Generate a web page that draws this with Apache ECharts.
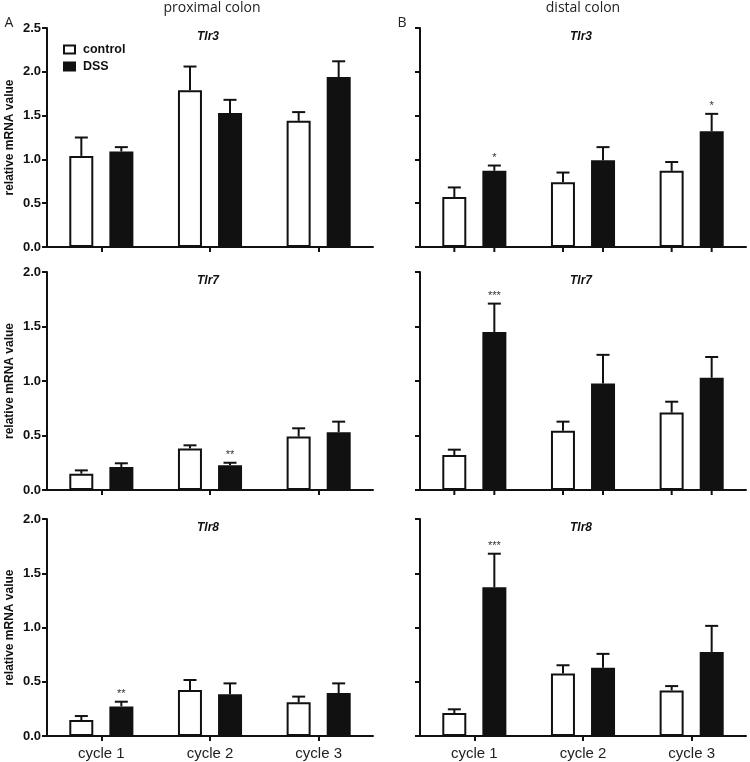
<!DOCTYPE html>
<html><head><meta charset="utf-8">
<script src="https://cdn.jsdelivr.net/npm/echarts@6/dist/echarts.min.js"></script>
<style>html,body{margin:0;padding:0;background:#fff}#c{width:750px;height:762px}</style>
</head><body><div id="c"></div>
<script>
const categories = ['cycle 1', 'cycle 2', 'cycle 3'];
const genes = ['Tlr3', 'Tlr7', 'Tlr8'];
const regions = ['proximal colon', 'distal colon'];
const panelLetters = ['A', 'B'];
const groupNames = ['control', 'DSS'];
const yAxisLabel = 'relative mRNA value';
const yMaxByRow = [2.5, 2.0, 2.0];
const yInterval = 0.5;

// proximal colon
const proxTlr3Control = [1.04, 1.79, 1.44];
const proxTlr3ControlSem = [0.21, 0.27, 0.10];
const proxTlr3Dss = [1.09, 1.53, 1.94];
const proxTlr3DssSem = [0.05, 0.15, 0.18];
const proxTlr3Sig = ['', '', ''];

const proxTlr7Control = [0.15, 0.38, 0.49];
const proxTlr7ControlSem = [0.03, 0.03, 0.076];
const proxTlr7Dss = [0.21, 0.226, 0.53];
const proxTlr7DssSem = [0.035, 0.024, 0.097];
const proxTlr7Sig = ['', '**', ''];

const proxTlr8Control = [0.147, 0.424, 0.31];
const proxTlr8ControlSem = [0.037, 0.092, 0.053];
const proxTlr8Dss = [0.273, 0.384, 0.396];
const proxTlr8DssSem = [0.043, 0.101, 0.089];
const proxTlr8Sig = ['**', '', ''];

// distal colon
const distTlr3Control = [0.57, 0.74, 0.87];
const distTlr3ControlSem = [0.11, 0.11, 0.10];
const distTlr3Dss = [0.87, 0.99, 1.32];
const distTlr3DssSem = [0.06, 0.15, 0.20];
const distTlr3Sig = ['*', '', '*'];

const distTlr7Control = [0.32, 0.544, 0.71];
const distTlr7ControlSem = [0.05, 0.083, 0.10];
const distTlr7Dss = [1.45, 0.976, 1.03];
const distTlr7DssSem = [0.26, 0.264, 0.19];
const distTlr7Sig = ['***', '', ''];

const distTlr8Control = [0.212, 0.575, 0.42];
const distTlr8ControlSem = [0.034, 0.077, 0.04];
const distTlr8Dss = [1.37, 0.628, 0.775];
const distTlr8DssSem = [0.31, 0.129, 0.24];
const distTlr8Sig = ['***', '', ''];

const panels = [
  // row, col, control, controlSem, dss, dssSem, sig
  [0, 0, proxTlr3Control, proxTlr3ControlSem, proxTlr3Dss, proxTlr3DssSem, proxTlr3Sig],
  [0, 1, distTlr3Control, distTlr3ControlSem, distTlr3Dss, distTlr3DssSem, distTlr3Sig],
  [1, 0, proxTlr7Control, proxTlr7ControlSem, proxTlr7Dss, proxTlr7DssSem, proxTlr7Sig],
  [1, 1, distTlr7Control, distTlr7ControlSem, distTlr7Dss, distTlr7DssSem, distTlr7Sig],
  [2, 0, proxTlr8Control, proxTlr8ControlSem, proxTlr8Dss, proxTlr8DssSem, proxTlr8Sig],
  [2, 1, distTlr8Control, distTlr8ControlSem, distTlr8Dss, distTlr8DssSem, distTlr8Sig]
];

// layout (styles / positions)
const gridLeft = [47, 420];
const gridWidth = 326;
const gridTop = [28, 272, 519];
const gridHeight = [219, 218, 217];
const INK = '#111';
const BAR_W = 24;
const BAR_OFFSET = 20;
const FONT = 'Liberation Sans';

const grids = [], xAxes = [], yAxes = [], series = [], graphics = [];

function errRenderer(offset, sigArr, barTicks) {
  return function (params, api) {
    const idx = api.value(0), mean = api.value(1), sem = api.value(2);
    const base = api.coord([idx, mean]);
    const top = api.coord([idx, mean + sem]);
    const zero = api.coord([idx, 0]);
    const x = base[0] + offset;
    const children = [
      { type: 'line', shape: { x1: x, y1: base[1], x2: x, y2: top[1] }, style: { stroke: INK, lineWidth: 2 } },
      { type: 'line', shape: { x1: x - 6.5, y1: top[1], x2: x + 6.5, y2: top[1] }, style: { stroke: INK, lineWidth: 2 } }
    ];
    if (barTicks) {
      children.push({ type: 'line', shape: { x1: x, y1: zero[1], x2: x, y2: zero[1] + 5 }, style: { stroke: INK, lineWidth: 2 } });
    }
    const s = sigArr ? sigArr[params.dataIndex] : '';
    if (s) {
      children.push({ type: 'text', style: { text: s, x: x, y: top[1] - 2, align: 'center', verticalAlign: 'bottom', font: '11px "' + FONT + '"', fill: '#333' } });
    }
    return { type: 'group', children: children };
  };
}

panels.forEach((p, k) => {
  const [row, col, ctrl, ctrlSem, dss, dssSem, sig] = p;
  const isBottom = row === 2;
  const barTicks = col === 1 && row < 2;
  grids.push({ left: gridLeft[col], top: gridTop[row], width: gridWidth, height: gridHeight[row], containLabel: false });
  xAxes.push({
    type: 'category', gridIndex: k, data: categories,
    axisLine: { lineStyle: { color: INK, width: 2 } },
    axisTick: { show: !barTicks, alignWithLabel: true, length: 5, lineStyle: { color: INK, width: 2 } },
    axisLabel: { show: isBottom, fontFamily: FONT, fontSize: 15, color: '#222', margin: 10 },
    splitLine: { show: false }
  });
  yAxes.push({
    type: 'value', gridIndex: k, min: 0, max: yMaxByRow[row], interval: yInterval,
    name: col === 0 ? yAxisLabel : '', nameLocation: 'middle', nameGap: 31,
    nameTextStyle: { fontFamily: FONT, fontWeight: 'bold', fontSize: 12, color: INK },
    axisLine: { show: true, lineStyle: { color: INK, width: 2 } },
    axisTick: { show: true, length: 5, lineStyle: { color: INK, width: 2 } },
    axisLabel: { show: col === 0, fontFamily: FONT, fontWeight: 'bold', fontSize: 13, color: INK, margin: 6,
      formatter: v => v.toFixed(1) },
    splitLine: { show: false }
  });
  series.push({
    type: 'bar', name: groupNames[0], xAxisIndex: k, yAxisIndex: k, data: ctrl,
    barWidth: BAR_W, barGap: '67%', z: 2,
    itemStyle: { color: '#fff', borderColor: INK, borderWidth: 2 }
  });
  series.push({
    type: 'bar', name: groupNames[1], xAxisIndex: k, yAxisIndex: k, data: dss,
    barWidth: BAR_W, barGap: '67%', z: 2,
    itemStyle: { color: INK, borderColor: INK, borderWidth: 2 }
  });
  series.push({
    type: 'custom', xAxisIndex: k, yAxisIndex: k, z: 3, clip: false,
    data: ctrl.map((v, i) => [i, v, ctrlSem[i]]),
    encode: { x: 0, y: 1 },
    renderItem: errRenderer(-BAR_OFFSET, null, barTicks)
  });
  series.push({
    type: 'custom', xAxisIndex: k, yAxisIndex: k, z: 3, clip: false,
    data: dss.map((v, i) => [i, v, dssSem[i]]),
    encode: { x: 0, y: 1 },
    renderItem: errRenderer(BAR_OFFSET, sig, barTicks)
  });
  graphics.push({
    type: 'text', x: gridLeft[col] + gridWidth / 2 - 2, y: gridTop[row] + 9,
    style: { text: genes[row], font: 'italic bold 12px "' + FONT + '"', fill: INK, align: 'center', verticalAlign: 'middle' }
  });
});

graphics.push({ type: 'text', x: 212, y: 8, style: { text: regions[0], font: '14px "Open Sans"', fill: '#222', align: 'center', verticalAlign: 'middle' } });
graphics.push({ type: 'text', x: 583, y: 8, style: { text: regions[1], font: '14px "Open Sans"', fill: '#222', align: 'center', verticalAlign: 'middle' } });
graphics.push({ type: 'text', x: 9, y: 23, style: { text: panelLetters[0], font: '14px "Open Sans"', fill: '#222', align: 'center', verticalAlign: 'middle' } });
graphics.push({ type: 'text', x: 402, y: 23, style: { text: panelLetters[1], font: '14px "Open Sans"', fill: '#222', align: 'center', verticalAlign: 'middle' } });

const chart = echarts.init(document.getElementById('c'), null, { renderer: 'canvas' });
chart.setOption({
  animation: false,
  backgroundColor: '#fff',
  textStyle: { fontFamily: FONT },
  grid: grids,
  xAxis: xAxes,
  yAxis: yAxes,
  legend: {
    data: [
      { name: groupNames[0], icon: 'rect', itemStyle: { color: '#fff', borderColor: INK, borderWidth: 2 } },
      { name: groupNames[1], icon: 'rect', itemStyle: { color: INK, borderColor: INK, borderWidth: 2 } }
    ],
    orient: 'vertical', left: 58, top: 38, itemWidth: 11, itemHeight: 8, itemGap: 4,
    selectedMode: false,
    textStyle: { fontFamily: FONT, fontWeight: 'bold', fontSize: 12.5, color: INK, lineHeight: 13, padding: [0, 0, 0, 3] }
  },
  graphic: graphics,
  series: series
});
</script></body></html>
